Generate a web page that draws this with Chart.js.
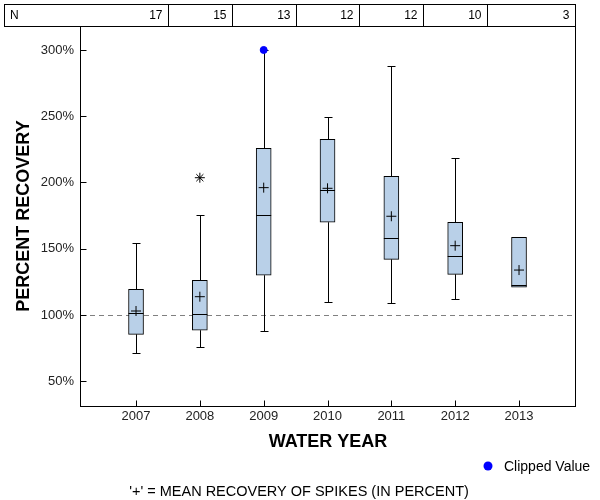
<!DOCTYPE html>
<html><head><meta charset="utf-8">
<script src="https://cdn.jsdelivr.net/npm/chart.js@4.4.1/dist/chart.umd.min.js"></script>
<style>html,body{margin:0;padding:0;background:#fff}</style>
</head><body>
<canvas id="c" width="600" height="500"></canvas>
<script>
const years       = [2007, 2008, 2009, 2010, 2011, 2012, 2013];
const nCounts     = [17, 15, 13, 12, 12, 10, 3];
const whiskerLow  = [71.1, 75.6, 87.7, 109.6, 108.8, 112.1, 120.9];
const q1          = [85.4, 88.5, 130.0, 170.0, 142.0, 130.7, 120.9];
const median      = [101.3, 100.5, 175.2, 194.1, 157.8, 144.3, 122.3];
const q3          = [119.4, 126.2, 225.8, 232.6, 204.7, 170.0, 158.6];
const whiskerHigh = [154.1, 175.2, 300.0, 249.7, 287.7, 218.6, 158.6];
const means       = [103.0, 113.8, 196.1, 195.6, 174.5, 152.3, 133.9];
const outlierYears  = [2008];
const outlierValues = [203.6];
const clippedYears  = [2009];
const clippedValues = [300];
const yTickValues = [50, 100, 150, 200, 250, 300];
const referenceLine = 100;

const FONT = "'Liberation Sans', Arial, sans-serif";

const extras = {
  id: 'extras',
  beforeDatasetsDraw(chart) {
    const {ctx, chartArea: a, scales: {x, y}} = chart;
    ctx.save();
    ctx.lineWidth = 1;
    ctx.strokeStyle = '#808080';
    ctx.setLineDash([5, 4]);
    const yr = Math.round(y.getPixelForValue(referenceLine)) + 0.5;
    ctx.beginPath(); ctx.moveTo(a.left, yr); ctx.lineTo(a.right, yr); ctx.stroke();
    ctx.setLineDash([]);
    ctx.strokeStyle = '#000';
    years.forEach((yv, i) => {
      const px = Math.round(x.getPixelForValue(yv)) + 0.5;
      const seg = (from, to) => {
        if (from === to) return;
        const p1 = y.getPixelForValue(from);
        const p2 = Math.round(y.getPixelForValue(to)) + 0.5;
        ctx.beginPath(); ctx.moveTo(px, p1); ctx.lineTo(px, p2); ctx.stroke();
        ctx.beginPath(); ctx.moveTo(px - 4, p2); ctx.lineTo(px + 4, p2); ctx.stroke();
      };
      seg(q3[i], whiskerHigh[i]);
      seg(q1[i], whiskerLow[i]);
    });
    ctx.restore();
  },
  afterDatasetDraw(chart, args) {
    if (args.index !== 0) return;
    const {ctx, scales: {y}} = chart;
    const meta = chart.getDatasetMeta(0);
    ctx.save();
    ctx.strokeStyle = '#000'; ctx.lineWidth = 1;
    meta.data.forEach((bar, i) => {
      const half = bar.width / 2;
      const py = Math.round(y.getPixelForValue(median[i])) + 0.5;
      ctx.beginPath(); ctx.moveTo(bar.x - half, py); ctx.lineTo(bar.x + half, py); ctx.stroke();
    });
    ctx.restore();
  },
  afterDraw(chart) {
    const {ctx, chartArea: a, scales: {x, y}} = chart;
    ctx.save();
    ctx.strokeStyle = '#000'; ctx.lineWidth = 1;
    const L = Math.round(a.left) - 0.5, R = Math.round(a.right) + 0.5;
    const T = Math.round(a.top) + 0.5, B = Math.round(a.bottom) + 0.5;
    ctx.strokeRect(L, T, R - L, B - T);
    yTickValues.forEach(v => {
      const py = Math.round(y.getPixelForValue(v)) + 0.5;
      ctx.beginPath(); ctx.moveTo(L, py); ctx.lineTo(L + 6, py); ctx.stroke();
    });
    years.forEach(v => {
      const px = Math.round(x.getPixelForValue(v)) + 0.5;
      ctx.beginPath(); ctx.moveTo(px, B); ctx.lineTo(px, B - 6); ctx.stroke();
    });
    const tTop = 4.5;
    ctx.strokeRect(4.5, tTop, R - 4.5, T - tTop);
    const divs = years.slice(0, -1).map(v => Math.round(x.getPixelForValue(v + 0.5)) + 0.5);
    divs.forEach(d => { ctx.beginPath(); ctx.moveTo(d, tTop); ctx.lineTo(d, T); ctx.stroke(); });
    ctx.fillStyle = '#000';
    ctx.font = '12px ' + FONT;
    ctx.textBaseline = 'middle';
    const midY = (tTop + T) / 2 + 0.5;
    ctx.textAlign = 'left';
    ctx.fillText('N', 10, midY);
    ctx.textAlign = 'right';
    const rights = divs.concat([R]);
    nCounts.forEach((n, i) => ctx.fillText(String(n), rights[i] - 6, midY));
    ctx.fillStyle = '#0000ff';
    ctx.beginPath(); ctx.arc(488, 466, 4.5, 0, Math.PI * 2); ctx.fill();
    ctx.fillStyle = '#000';
    ctx.textAlign = 'left';
    ctx.font = '14px ' + FONT;
    ctx.fillText('Clipped Value', 504, 467);
    ctx.textAlign = 'center';
    ctx.font = '14.5px ' + FONT;
    ctx.fillText("'+' = MEAN RECOVERY OF SPIKES (IN PERCENT)", 299, 492);
    ctx.restore();
  }
};

new Chart(document.getElementById('c'), {
  type: 'bar',
  data: {
    datasets: [
      {
        type: 'bar',
        label: 'Box',
        data: years.map((yr, i) => ({x: yr, y: [q1[i], q3[i]]})),
        backgroundColor: '#b9d0e8',
        borderColor: '#000',
        borderWidth: 1,
        borderSkipped: false,
        barThickness: 15,
        order: 3
      },
      {
        type: 'scatter',
        label: 'Mean',
        data: years.map((yr, i) => ({x: yr, y: means[i]})),
        pointStyle: 'cross',
        radius: 5,
        borderColor: '#000',
        borderWidth: 1,
        order: 1
      },
      {
        type: 'scatter',
        label: 'Outlier',
        data: outlierYears.map((yr, i) => ({x: yr, y: outlierValues[i]})),
        pointStyle: 'star',
        radius: 5,
        borderColor: '#000',
        borderWidth: 1,
        order: 1
      },
      {
        type: 'scatter',
        label: 'Clipped Value',
        data: clippedYears.map((yr, i) => ({x: yr, y: clippedValues[i]})),
        pointStyle: 'circle',
        radius: 3.5,
        backgroundColor: '#0000ff',
        borderColor: '#0000ff',
        borderWidth: 1,
        order: 0
      }
    ]
  },
  options: {
    responsive: false,
    animation: false,
    devicePixelRatio: 1,
    layout: {padding: {left: 0, right: 25, top: 26, bottom: 44}},
    plugins: {legend: {display: false}, tooltip: {enabled: false}},
    scales: {
      x: {
        type: 'linear',
        min: 2006.138,
        max: 2013.877,
        offset: false,
        grid: {display: false, drawTicks: false},
        border: {display: false},
        afterBuildTicks: s => { s.ticks = years.map(v => ({value: v})); },
        afterFit: s => { s.height = 50; },
        ticks: {
          autoSkip: false, maxRotation: 0, padding: 3,
          color: '#222', font: {family: FONT, size: 13},
          callback: v => String(v)
        },
        title: {display: true, text: 'WATER YEAR', color: '#000',
          font: {family: FONT, size: 18, weight: 'bold'}, padding: {top: 0, bottom: 3}}
      },
      y: {
        min: 31.3,
        max: 318.1,
        grid: {display: false, drawTicks: false},
        border: {display: false},
        afterBuildTicks: s => { s.ticks = yTickValues.map(v => ({value: v})); },
        afterFit: s => { s.width = 81; },
        ticks: {
          padding: 7, color: '#222', font: {family: FONT, size: 13},
          callback: v => v + '%'
        },
        title: {display: true, text: 'PERCENT RECOVERY', color: '#000',
          font: {family: FONT, size: 18, weight: 'bold'}, padding: {top: 13, bottom: 0}}
      }
    }
  },
  plugins: [extras]
});
</script>
</body></html>
